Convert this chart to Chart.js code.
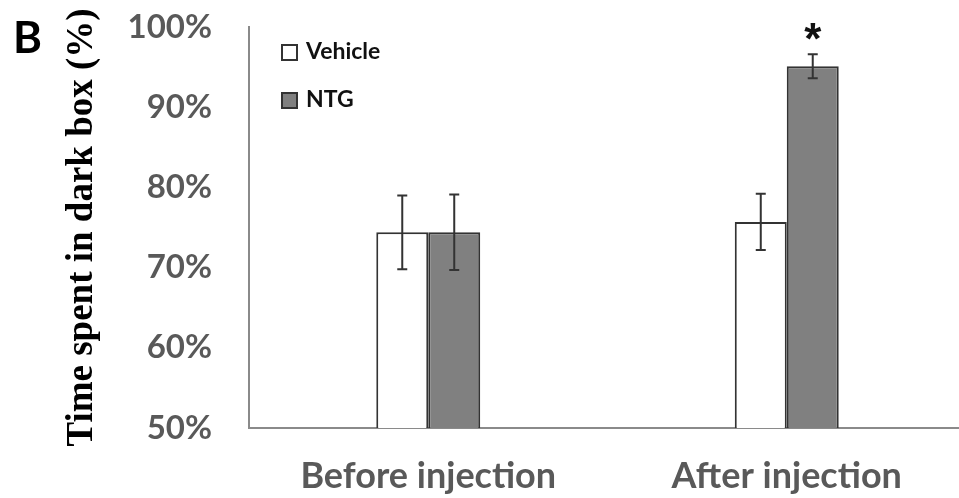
<!DOCTYPE html>
<html>
<head>
<meta charset="utf-8">
<script src="https://cdn.jsdelivr.net/npm/chart.js@4.4.1/dist/chart.umd.min.js"></script>
<style>
  html, body { margin: 0; padding: 0; background: #fff; overflow: hidden; }
  #wrap { position: relative; width: 959px; height: 498px; overflow: hidden; }
  canvas { display: block; }
  #panel { position: absolute; left: 13px; top: 10px; font: bold 44px Lato, "Open Sans", sans-serif; color: #000; }
</style>
</head>
<body>
<div id="wrap">
  <div id="panel">B</div>
  <canvas id="chart" width="966" height="498"></canvas>
</div>
<script>
// Time spent in the dark compartment, mean and error per group
const categories = ['Before injection', 'After injection'];
const vehicleMeans = [74.4, 75.7];
const vehicleErr = [4.6, 3.5];
const ntgMeans = [74.4, 95.1];
const ntgErr = [4.7, 1.5];
const yTicks = [50, 60, 70, 80, 90, 100];
const seriesNames = ['Vehicle', 'NTG'];
const starred = [{ dataset: 1, index: 1 }];

const errorsByDataset = [vehicleErr, ntgErr];

// Error bars with short caps
const errorBars = {
  id: 'errorBars',
  afterDatasetsDraw(chart) {
    const ctx = chart.ctx;
    const y = chart.scales.y;
    ctx.save();
    ctx.strokeStyle = '#333';
    ctx.lineWidth = 2;
    chart.data.datasets.forEach((ds, di) => {
      const meta = chart.getDatasetMeta(di);
      meta.data.forEach((bar, i) => {
        const v = ds.data[i], e = errorsByDataset[di][i];
        const top = y.getPixelForValue(v + e);
        const bot = y.getPixelForValue(v - e);
        const x = bar.x;
        ctx.beginPath();
        ctx.moveTo(x, top); ctx.lineTo(x, bot);
        ctx.moveTo(x - 5, top); ctx.lineTo(x + 5, top);
        ctx.moveTo(x - 5, bot); ctx.lineTo(x + 5, bot);
        ctx.stroke();
      });
    });
    // significance marker
    ctx.fillStyle = '#111';
    ctx.font = 'bold 44px "Liberation Sans", Arial, sans-serif';
    ctx.textAlign = 'center';
    ctx.textBaseline = 'middle';
    starred.forEach(s => {
      const bar = chart.getDatasetMeta(s.dataset).data[s.index];
      const v = chart.data.datasets[s.dataset].data[s.index] + errorsByDataset[s.dataset][s.index];
      ctx.fillText('*', bar.x, y.getPixelForValue(v) - 12);
    });
    ctx.restore();
  }
};

// Stacked legend in the upper-left of the plot
const boxLegend = {
  id: 'boxLegend',
  afterDraw(chart) {
    const ctx = chart.ctx;
    const area = chart.chartArea;
    ctx.save();
    ctx.font = 'bold 23px Lato, "Open Sans", sans-serif';
    ctx.textBaseline = 'middle';
    ctx.textAlign = 'left';
    chart.data.datasets.forEach((ds, i) => {
      const bx = area.left + 33, by = 45 + i * 48;
      ctx.fillStyle = ds.backgroundColor;
      ctx.fillRect(bx, by, 15, 15);
      ctx.strokeStyle = '#333';
      ctx.lineWidth = 2;
      ctx.strokeRect(bx, by, 15, 15);
      ctx.fillStyle = '#111';
      ctx.fillText(ds.label, bx + 24, by + 7);
    });
    ctx.restore();
  }
};

new Chart(document.getElementById('chart'), {
  type: 'bar',
  data: {
    labels: categories,
    datasets: [
      { label: seriesNames[0], data: vehicleMeans, backgroundColor: '#ffffff', borderColor: '#333333', borderWidth: 2, borderSkipped: 'bottom' },
      { label: seriesNames[1], data: ntgMeans, backgroundColor: '#808080', borderColor: '#333333', borderWidth: 2, borderSkipped: 'bottom' }
    ]
  },
  options: {
    responsive: false,
    animation: false,
    categoryPercentage: 0.29,
    barPercentage: 1,
    layout: { padding: { left: 60, top: 27, right: 0, bottom: 0 } },
    plugins: { legend: { display: false }, tooltip: { enabled: false } },
    scales: {
      x: {
        grid: { display: false, drawTicks: false },
        border: { display: true, color: '#8a8a8a', width: 2 },
        ticks: { color: '#595959', padding: 27, font: { family: 'Lato', weight: 'bold', size: 36 } },
        afterFit(scale) { scale.height = 70; scale.paddingLeft = 0; scale.paddingRight = 0; }
      },
      y: {
        min: 50, max: 100,
        afterBuildTicks(scale) { scale.ticks = yTicks.map(v => ({ value: v })); },
        grid: { display: false, drawTicks: false },
        border: { display: true, color: '#8a8a8a', width: 2 },
        ticks: { color: '#595959', padding: 37, font: { family: 'Lato', weight: 'bold', size: 33 }, callback: v => v + '%' },
        title: {
          display: true,
          text: 'Time spent in dark box (%)',
          color: '#000',
          padding: 0,
          font: { family: '"Liberation Serif"', weight: 'bold', size: 37, lineHeight: 1.2 }
        },
        afterFit(scale) { scale.width = 249 - 60; scale.paddingTop = 0; scale.paddingBottom = 0; }
      }
    }
  },
  plugins: [errorBars, boxLegend]
});
</script>
</body>
</html>
